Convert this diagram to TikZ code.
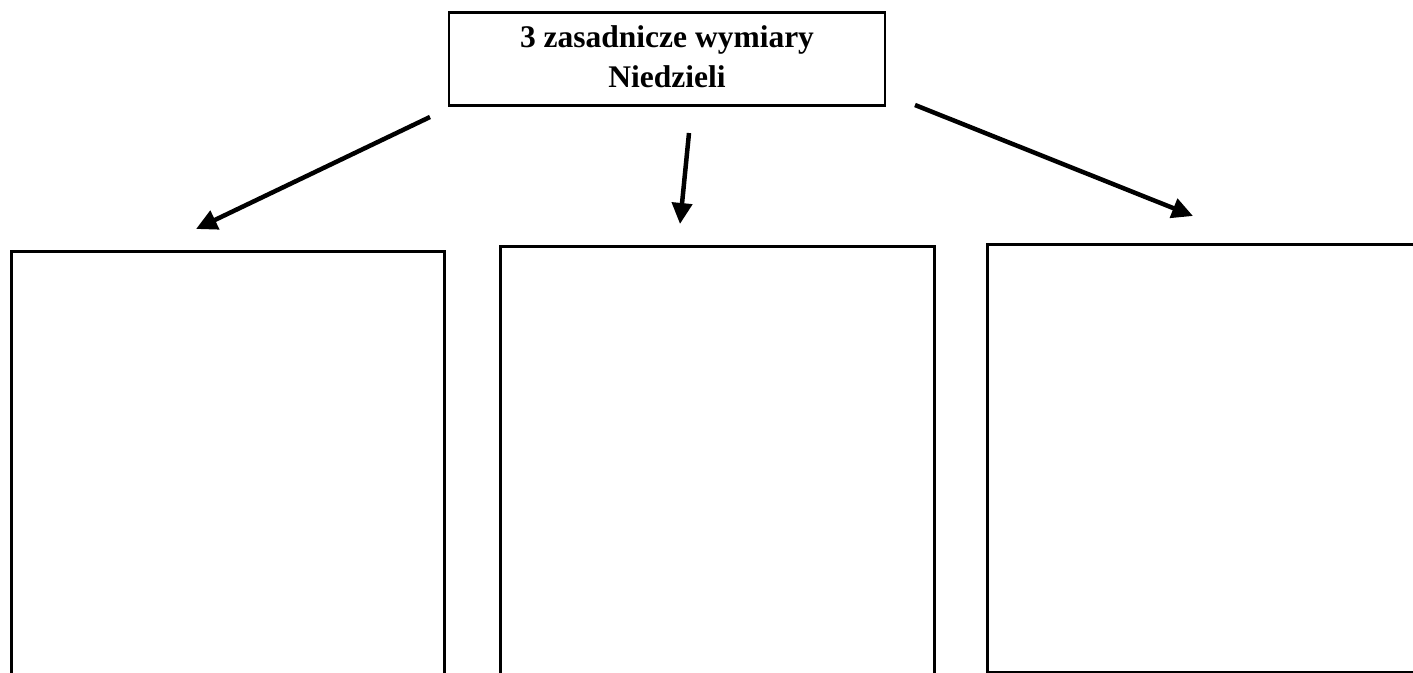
\documentclass[tikz,border=0pt]{standalone}
\usepackage{fontspec}
\setmainfont{Liberation Serif}
\usetikzlibrary{positioning, arrows.meta}

\begin{document}
\begin{tikzpicture}[x=1pt, y=-1pt,
    titlebox/.style={draw, line width=2.5pt, minimum width=436pt, minimum height=93pt,
      align=center, font=\fontsize{31.5}{40}\selectfont\bfseries, inner sep=0pt},
    emptybox/.style={draw, line width=2.5pt, anchor=north west, inner sep=0pt},
    bigarrow/.style={-{Triangle[length=21pt, width=20pt]}, line width=4.5pt}]
                \useasboundingbox (0,0) rectangle (1413,672);

                % Title box
                \node[titlebox, text depth=4pt] (title) at (667,59) {3 zasadnicze wymiary\\Niedzieli};

                % Three empty boxes
                \node[emptybox, minimum width=433pt, minimum height=470pt] (leftbox) at (10,250) {};
                \node[emptybox, minimum width=434pt, minimum height=470pt] (midbox) at (499,245) {};
                \node[emptybox, minimum width=440pt, minimum height=428pt] (rightbox) at (986,243) {};

                % Arrow ends
                \coordinate (ls) at (430,117);
                \coordinate (le) at (196,229);
                \coordinate (ms) at (689,133);
                \coordinate (me) at (680,224);
                \coordinate (rs) at (915,105);
                \coordinate (re) at (1193,216);

                % Arrows
                \draw[bigarrow] (ls) -- (le);
                \draw[bigarrow] (ms) -- (me);
                \draw[bigarrow] (rs) -- (re);
            \end{tikzpicture}
\end{document}
